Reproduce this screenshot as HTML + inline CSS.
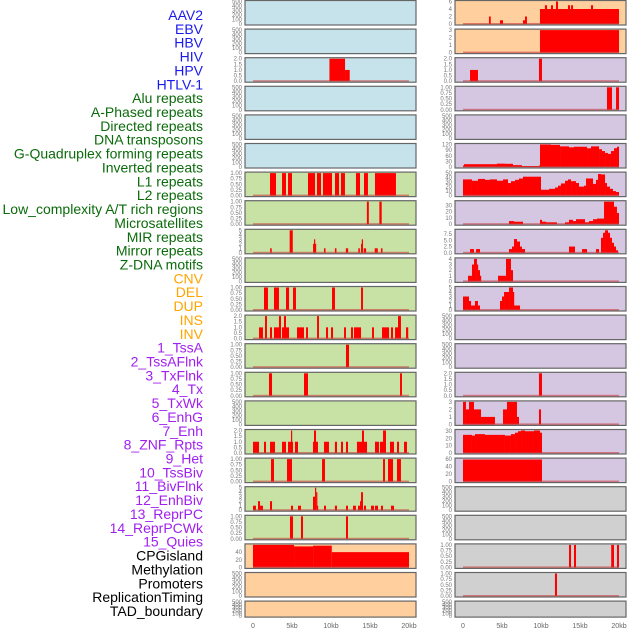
<!DOCTYPE html>
<html><head><meta charset="utf-8"><style>
html,body{margin:0;padding:0;background:#fff;width:630px;height:630px;overflow:hidden}
svg{display:block;font-family:"Liberation Sans",sans-serif}
</style></head><body>
<svg id="chart" width="630" height="630" viewBox="0 0 630 630"></svg>
<script>
// ---- data (segments: [startKb, endKb, value]) ----
const labelNames = ["AAV2","EBV","HBV","HIV","HPV","HTLV-1","Alu repeats","A-Phased repeats","Directed repeats","DNA transposons","G-Quadruplex forming repeats","Inverted repeats","L1 repeats","L2 repeats","Low_complexity A/T rich regions","Microsatellites","MIR repeats","Mirror repeats","Z-DNA motifs","CNV","DEL","DUP","INS","INV","1_TssA","2_TssAFlnk","3_TxFlnk","4_Tx","5_TxWk","6_EnhG","7_Enh","8_ZNF_Rpts","9_Het","10_TssBiv","11_BivFlnk","12_EnhBiv","13_ReprPC","14_ReprPCWk","15_Quies","CPGisland","Methylation","Promoters","ReplicationTiming","TAD_boundary"];
const labelGroups = ["virus","virus","virus","virus","virus","virus","repeat","repeat","repeat","repeat","repeat","repeat","repeat","repeat","repeat","repeat","repeat","repeat","repeat","sv","sv","sv","sv","sv","chrom","chrom","chrom","chrom","chrom","chrom","chrom","chrom","chrom","chrom","chrom","chrom","chrom","chrom","chrom","other","other","other","other","other"];
const xTicks = [0,5,10,15,20];
const xTickLabels = ["0","5kb","10kb","15kb","20kb"];

const T01 = ["0.00","0.25","0.50","0.75","1.00"];
const T01v = [0,0.25,0.5,0.75,1];
const T2 = ["0.0","0.5","1.0","1.5","2.0"];
const T2v = [0,0.5,1,1.5,2];
const TE = ["0","100","200","300","400","500"];
const TEv = [0,100,200,300,400,500];

const L2 = [[9.8,11.8,2],[11.8,12.4,1]];
const L6 = [[2.18,2.95,1],[3.72,4.23,1],[4.49,5.0,1],[7.05,7.95,1],[8.2,8.72,1],[8.97,10.13,1],[10.51,11.03,1],[11.28,11.79,1],[13.2,13.72,1],[14.23,14.74,1],[15.64,18.33,1]];
const L7 = [[14.6,14.85,1],[16.2,16.5,1]];
const L8 = [[2.2,2.4,1],[4.7,5.1,5],[7.7,8.1,2],[7.82,7.95,3],[9.1,9.3,1],[10.5,10.7,1],[11.9,12.2,1],[13.5,13.7,1],[13.85,14.1,2],[13.95,14.05,3],[14.2,14.5,1],[15.6,16.0,1],[16.4,16.6,1]];
const L10 = [[1.41,1.92,1],[2.69,3.33,1],[4.23,4.62,1],[5.13,5.51,1],[10.13,10.51,1],[13.85,14.1,1]];
const L11 = [[0.77,1.28,1],[1.54,1.79,2],[2.18,2.44,1],[2.69,3.33,1],[3.33,3.59,2],[3.72,4.1,1],[3.97,4.23,2],[4.23,4.62,1],[5.64,6.54,1],[6.8,7.05,1],[8.21,8.46,2],[9.36,9.62,1],[10.0,10.26,1],[11.67,11.92,1],[12.56,12.82,1],[12.95,13.85,1],[15.26,15.51,1],[16.54,17.44,1],[17.69,17.95,1],[18.21,18.59,1],[18.59,18.97,2],[19.62,19.9,1]];
const L12 = [[11.92,12.31,1]];
const L13 = [[2.05,2.44,1],[6.54,7.05,1],[18.85,19.1,1]];
const L15 = [[0,0.77,1],[1.41,1.67,1],[2.18,2.82,1],[3.72,4.23,1],[4.49,5.13,1],[4.87,5.0,2],[5.38,5.77,1],[7.69,8.33,1],[7.82,8.08,2],[9.1,9.74,1],[10.5,10.77,1],[11.28,11.54,1],[11.92,12.18,1],[13.33,14.62,1],[13.97,14.23,2],[15.64,16.15,1],[16.28,17.05,1],[16.67,17.05,2],[17.56,18.08,1],[18.46,18.72,1],[19.36,19.74,1]];
const L16 = [[2.31,2.69,1],[4.36,5.0,1],[8.85,9.23,1],[16.67,16.92,1],[17.31,17.95,1],[18.46,18.97,1]];
const L17 = [[0,0.38,1],[0.64,0.9,2],[0.9,1.28,1],[2.18,2.44,2],[4.87,5.13,1],[5.77,6.15,1],[7.69,7.95,3],[7.95,8.1,5],[8.1,8.2,4],[8.2,8.33,1],[9.1,9.36,1],[10.5,10.77,1],[11.92,12.18,1],[12.82,13.2,1],[13.46,13.72,1],[13.72,13.85,2],[13.85,14.1,4],[14.23,14.49,1],[15.13,15.51,1],[15.64,16.03,1],[16.41,16.67,1],[17.69,18.08,1]];
const L18 = [[4.74,5.13,1],[6.15,6.41,1],[11.92,12.18,1]];
const L19 = [[0,5.26,60],[5.26,7.7,55],[7.7,10.1,57],[10.1,20,40]];

const R0 = [[3.33,3.56,2],[4.74,5.13,1],[7.69,7.95,1],[7.95,8.2,2],[9.87,20,4],[10.5,10.77,5],[11.28,11.54,5],[11.92,12.18,6],[13.46,13.72,5],[13.85,14.1,5],[16.41,16.67,5]];
const R1 = [[9.87,20,3]];
const R2 = [[0.9,1.92,1],[9.74,10.13,2]];
const R3 = [[18.46,19.1,1],[19.62,20,1]];
const R5 = [[0,0.13,8],[0.13,4.36,15],[4.36,5.38,18],[5.38,6.41,17],[6.41,7.56,10],[7.56,9.74,5],[9.74,9.87,8],[9.87,11.28,120],[11.28,12.44,118],[12.44,13.59,110],[13.59,14.23,105],[14.23,15.9,108],[15.9,16.41,100],[16.41,17.44,110],[17.44,17.82,95],[17.82,18.21,85],[18.21,18.59,75],[18.59,18.97,70],[18.97,19.36,85],[19.36,19.74,100],[19.74,20,108]];
const R6 = [[0,1.15,36],[1.15,1.92,33],[1.92,2.82,37],[2.82,3.46,35],[3.46,4.36,36],[4.36,5.13,33],[5.13,5.77,36],[5.77,6.15,28],[6.15,6.67,32],[6.67,7.18,35],[7.18,7.69,38],[7.69,10.0,42],[10.0,11.03,13],[11.03,11.79,15],[11.79,12.18,18],[12.18,12.56,22],[12.56,13.08,27],[13.08,13.46,33],[13.46,13.85,36],[13.85,14.49,32],[14.49,14.87,28],[14.87,15.51,20],[15.51,15.77,22],[15.77,16.67,38],[16.67,17.05,26],[17.05,17.31,35],[17.31,17.69,48],[17.69,18.21,47],[18.21,18.46,28],[18.46,18.85,20],[18.85,19.23,15],[19.23,19.62,10],[19.62,20,8]];
const R7 = [[5.9,6.54,5],[6.54,7.69,4],[9.87,10.13,7],[10.13,10.64,4],[10.64,12.05,3],[13.08,13.59,3],[13.59,14.1,7],[14.1,14.49,5],[14.49,15.64,8],[15.64,16.15,3],[16.15,16.67,5],[16.67,17.18,8],[17.18,18.08,9],[18.08,18.72,40],[18.72,19.36,38],[19.36,19.74,28],[19.74,20,18]];
const R8 = [[0.9,1.41,1.5],[1.67,2.18,1.5],[5.9,6.28,1.5],[6.28,6.54,2.5],[6.54,6.92,5.5],[6.92,7.31,4.5],[7.31,7.56,2.5],[7.56,7.95,1.5],[13.59,14.36,2.5],[15.26,15.9,1.5],[17.05,17.44,1.5],[17.69,17.95,6],[17.95,18.21,8],[18.21,18.59,9],[18.59,18.85,8],[18.85,19.1,6],[19.1,19.36,4],[19.36,19.62,2.5],[19.62,19.87,1]];
const R9 = [[0.64,1.15,1],[1.15,1.41,3],[1.41,1.79,4],[1.79,1.92,3],[1.92,2.18,2],[2.18,2.31,1],[4.49,5.51,1],[5.51,6.15,4],[6.15,6.41,2]];
const R10 = [[0,0.77,3],[0.77,1.03,2],[1.03,1.54,1],[1.54,1.92,2],[1.92,2.18,1],[4.74,5.0,2],[5.0,5.26,3],[5.26,5.9,4],[5.9,6.41,5],[6.41,6.54,4],[6.54,7.31,1]];
const R13 = [[9.74,10.13,2]];
const R14 = [[0,0.38,3],[0.38,0.77,2],[0.77,1.41,3],[1.41,2.31,2],[2.31,4.1,1],[5.13,5.64,2],[5.64,6.92,3],[6.92,7.18,1],[9.74,10.0,2]];
const R15 = [[0,1.15,25],[1.15,1.54,24],[1.54,2.82,26],[2.82,5.38,25],[5.38,6.15,24],[6.15,6.67,26],[6.67,7.05,28],[7.05,7.44,30],[7.44,7.95,31],[7.95,9.1,30],[9.1,9.87,31],[9.87,10.13,28]];
const R16 = [[0,10.13,59]];
const R19 = [[13.59,13.85,1],[14.23,14.49,1],[19.0,19.36,1],[19.74,20,1]];
const R20 = [[11.79,12.05,1]];

// panel descriptors: [name, bg, segments, tickValues, tickLabels, ymax]
const leftPanels = [
 ["L0","blue",null,TEv,TE,500],["L1","blue",null,TEv,TE,500],["L2","blue",L2,T2v,T2,2],
 ["L3","blue",null,TEv,TE,500],["L4","blue",null,TEv,TE,500],["L5","blue",null,TEv,TE,500],
 ["L6","green",L6,T01v,T01,1],["L7","green",L7,T01v,T01,1],["L8","green",L8,[0,1,2,3,4,5],["0","1","2","3","4","5"],5],
 ["L9","green",null,TEv,TE,500],["L10","green",L10,T01v,T01,1],["L11","green",L11,T2v,T2,2],
 ["L12","green",L12,T01v,T01,1],["L13","green",L13,T01v,T01,1],["L14","green",null,TEv,TE,500],
 ["L15","green",L15,T2v,T2,2],["L16","green",L16,T01v,T01,1],["L17","green",L17,[0,1,2,3,4,5],["0","1","2","3","4","5"],5],
 ["L18","green",L18,T01v,T01,1],["L19","orange",L19,[0,20,40],["0","20","40"],59],
 ["L20","orange",null,TEv,TE,500],["L21","orange",null,TEv,TE,500]
];
const rightPanels = [
 ["R0","orange",R0,[0,2,4,6],["0","2","4","6"],6],["R1","orange",R1,[0,1,2,3],["0","1","2","3"],3],
 ["R2","purple",R2,T2v,T2,2],["R3","purple",R3,T01v,T01,1],["R4","purple",null,TEv,TE,500],
 ["R5","purple",R5,[0,30,60,90,120],["0","30","60","90","120"],120],
 ["R6","purple",R6,[0,10,20,30,40,50],["0","10","20","30","40","50"],50],
 ["R7","purple",R7,[0,10,20,30],["0","10","20","30"],36],
 ["R8","purple",R8,[0,2.5,5,7.5],["0.0","2.5","5.0","7.5"],9],
 ["R9","purple",R9,[0,1,2,3,4],["0","1","2","3","4"],4],
 ["R10","purple",R10,[0,1,2,3,4,5],["0","1","2","3","4","5"],5],
 ["R11","purple",null,TEv,TE,500],["R12","purple",null,TEv,TE,500],
 ["R13","purple",R13,T2v,T2,2],["R14","purple",R14,[0,1,2,3],["0","1","2","3"],3],
 ["R15","purple",R15,[0,10,20,30],["0","10","20","30"],31],
 ["R16","purple",R16,[0,20,40,60],["0","20","40","60"],60],
 ["R17","grey",null,TEv,TE,500],["R18","grey",null,TEv,TE,500],
 ["R19","grey",R19,T01v,T01,1],["R20","grey",R20,T01v,T01,1],["R21","grey",null,TEv,TE,500]
];

const NS = "http://www.w3.org/2000/svg";
const svg = document.getElementById("chart");
const BG = {blue:"#c6e3eb",green:"#c8e1a5",orange:"#ffd09e",purple:"#d5c6e2",grey:"#d0d0d0"};
const LC = {virus:"#1a1aee",repeat:"#0b6b0b",sv:"#ffa500",chrom:"#a020f0",other:"#000000"};
function mk(tag, attrs, parent){const e=document.createElementNS(NS,tag);for(const k in attrs)e.setAttribute(k,attrs[k]);(parent||svg).appendChild(e);return e;}

// labels
labelNames.forEach((n,i)=>{
  const t = mk("text",{x:203,y:20+i*13.86,"text-anchor":"end","font-size":"14",fill:LC[labelGroups[i]]});
  
  
  t.textContent = n;
});

function drawColumn(panels, px, x0){
  const W = 171;
  const xs = kb => x0 + kb*7.8;
  panels.forEach((p,i)=>{
    const top = 0.5 + i*28.6;
    const h = (i===21) ? 16 : 24.5;
    const bot = top + h;
    const ys = v => bot - 1 - Math.min(v,p[5])/p[5]*(h-2);
    const g = mk("g",{});
    
    
    mk("rect",{x:px,y:top,width:W,height:h,fill:BG[p[1]]},g);
    if(p[2]){
      p[2].forEach(s=>{
        const r = mk("rect",{x:xs(s[0]),y:ys(s[2]),width:Math.max(1.2,xs(s[1])-xs(s[0])),height:ys(0)-ys(s[2]),fill:"#ff0000"},g);
        
        
      });
      const bl = mk("rect",{x:xs(0),y:ys(0)-1,width:xs(20)-xs(0),height:1.6,fill:"rgba(205,60,60,0.6)"},g);
      
      
    }
    mk("rect",{x:px,y:top,width:W,height:h,fill:"none",stroke:"#666","stroke-width":1.2},g);
    p[3].forEach((v,k)=>{
      const t = mk("text",{x:px-3,y:ys(v)+2,"text-anchor":"end","font-size":"6",fill:"#777"},g);
      
      
      t.textContent = p[4][k];
    });
  });
  xTicks.forEach((v,k)=>{
    const t = mk("text",{x:xs(v),y:628,"text-anchor":"middle","font-size":"7",fill:"#666"});
    
    
    t.textContent = xTickLabels[k];
  });
}
drawColumn(leftPanels, 245, 253);
drawColumn(rightPanels, 455, 463);
</script>
</body></html>
